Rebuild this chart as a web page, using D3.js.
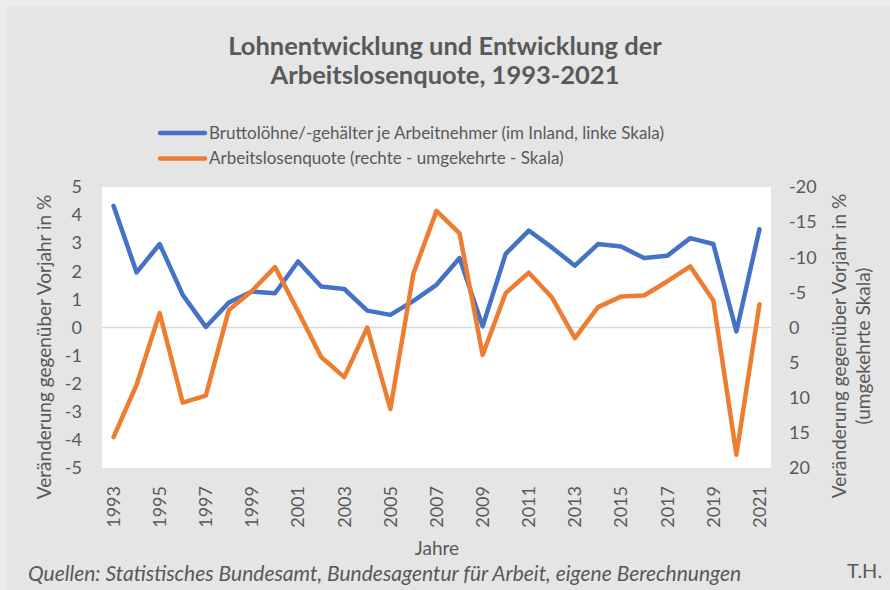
<!DOCTYPE html>
<html>
<head>
<meta charset="utf-8">
<script src="https://cdn.jsdelivr.net/npm/d3@7"></script>
<style>
  body { margin: 0; background: #e5e5e5; }
  text { font-family: Lato, "Open Sans", sans-serif; fill: #595959; }
</style>
</head>
<body>
<div class="display"></div>
<script>
// Lohnentwicklung vs. Arbeitslosenquote, two y-axes (right one inverted)

const WIDTH = 890;
const HEIGHT = 590;

const years = d3.range(1993, 2022);
const yearTicks = d3.range(1993, 2022, 2);

// Bruttolöhne/-gehälter je Arbeitnehmer, Veränderung in %
const wages = [4.33, 1.96, 2.97, 1.16, 0.02, 0.89, 1.28, 1.22, 2.35, 1.46, 1.37, 0.6, 0.45,
  0.95, 1.52, 2.47, 0.04, 2.62, 3.45, 2.85, 2.2, 2.97, 2.88, 2.47, 2.55, 3.18, 2.97, -0.14, 3.5];

// Arbeitslosenquote, Veränderung in %
const unemployment = [15.6, 8.15, -2.05, 10.7, 9.7, -2.5, -5.2, -8.6, -2.3, 4.2, 7.06, 0.0, 11.6,
  -7.7, -16.6, -13.4, 3.9, -4.9, -7.8, -4.3, 1.5, -2.9, -4.4, -4.55, -6.55, -8.7, -3.85, 18.1, -3.3];

const leftTicks = d3.range(-5, 6, 1);
const rightTicks = d3.range(-20, 21, 5);

const legendItems = [
  { label: 'Bruttolöhne/-gehälter je Arbeitnehmer (im Inland, linke Skala)', color: '#4472C4' },
  { label: 'Arbeitslosenquote (rechte - umgekehrte - Skala)', color: '#ED7D31' }
];

const plot = { left: 102, right: 771, top: 187, bottom: 468 };

const svg = d3.select('.display')
  .append('svg')
  .attr('width', WIDTH)
  .attr('height', HEIGHT);

// background with a slightly lighter outer edge
svg.append('rect').attr('width', WIDTH).attr('height', HEIGHT).attr('fill', '#ececec');
svg.append('rect').attr('x', 7).attr('y', 7).attr('width', WIDTH - 7).attr('height', HEIGHT - 7).attr('fill', '#e5e5e5');

svg.append('rect')
  .attr('x', plot.left)
  .attr('y', plot.top)
  .attr('width', plot.right - plot.left)
  .attr('height', plot.bottom - plot.top)
  .attr('fill', '#fff');

const x = d3.scaleBand()
  .domain(years)
  .range([plot.left, plot.right]);

const yLeft = d3.scaleLinear()
  .domain([-5, 5])
  .range([plot.bottom, plot.top]);

// inverted: -20 at the top
const yRight = d3.scaleLinear()
  .domain([20, -20])
  .range([plot.bottom, plot.top]);

const cx = d => x(d) + x.bandwidth() / 2;

// zero line
svg.append('line')
  .attr('x1', plot.left).attr('x2', plot.right)
  .attr('y1', yLeft(0)).attr('y2', yLeft(0))
  .attr('stroke', '#d9d9d9')
  .attr('stroke-width', 1.5);

// axes
const leftAxis = svg.append('g')
  .attr('transform', `translate(${plot.left - 20},0)`)
  .call(d3.axisLeft(yLeft).tickValues(leftTicks).tickSize(0).tickPadding(0));

const rightAxis = svg.append('g')
  .attr('transform', `translate(${plot.right + 18},0)`)
  .call(d3.axisRight(yRight).tickValues(rightTicks).tickSize(0).tickPadding(0));

const xAxis = svg.append('g')
  .attr('transform', `translate(0,${plot.bottom})`)
  .call(d3.axisBottom(x).tickValues(yearTicks).tickSize(0).tickPadding(0));

[leftAxis, rightAxis, xAxis].forEach(a => {
  a.select('.domain').remove();
  a.selectAll('text').style('font-size', '18px').attr('fill', '#595959');
});

leftAxis.selectAll('text').text(d => d < 0 ? '-' + Math.abs(d) : d);
rightAxis.selectAll('text').text(d => d < 0 ? '-' + Math.abs(d) : d);

xAxis.selectAll('text')
  .attr('transform', 'rotate(-90)')
  .attr('x', -18)
  .attr('y', 0)
  .attr('dy', '0.35em')
  .style('text-anchor', 'end');

// lines
const lineLeft = d3.line()
  .x((d, i) => cx(years[i]))
  .y(d => yLeft(d));

const lineRight = d3.line()
  .x((d, i) => cx(years[i]))
  .y(d => yRight(d));

svg.append('path')
  .datum(wages)
  .attr('d', lineLeft)
  .attr('fill', 'none')
  .attr('stroke', legendItems[0].color)
  .attr('stroke-width', 4.5)
  .attr('stroke-linejoin', 'round')
  .attr('stroke-linecap', 'round');

svg.append('path')
  .datum(unemployment)
  .attr('d', lineRight)
  .attr('fill', 'none')
  .attr('stroke', legendItems[1].color)
  .attr('stroke-width', 4.5)
  .attr('stroke-linejoin', 'round')
  .attr('stroke-linecap', 'round');

// title, two separate lines
svg.selectAll('.title')
  .data(['Lohnentwicklung und Entwicklung der', 'Arbeitslosenquote, 1993-2021'])
  .enter()
  .append('text')
  .attr('class', 'title')
  .attr('x', 445)
  .attr('y', (d, i) => 55 + i * 29)
  .attr('text-anchor', 'middle')
  .style('font-size', '25.5px')
  .style('font-weight', 'bold')
  .text(d => d);

// legend
const legend = svg.selectAll('.legend')
  .data(legendItems)
  .enter()
  .append('g')
  .attr('class', 'legend')
  .attr('transform', (d, i) => `translate(160,${133 + i * 25.5})`);

legend.append('line')
  .attr('x1', 0).attr('x2', 45)
  .attr('stroke', d => d.color)
  .attr('stroke-width', 4.5)
  .attr('stroke-linecap', 'round');

legend.append('text')
  .attr('x', 49)
  .attr('dy', '0.35em')
  .style('font-size', '17px')
  .text(d => d.label);

// axis titles
svg.append('text')
  .attr('transform', 'translate(51,347) rotate(-90)')
  .attr('text-anchor', 'middle')
  .style('font-size', '19px')
  .text('Veränderung gegenüber Vorjahr in %');

const rightTitle = svg.append('text')
  .attr('transform', 'translate(846,346) rotate(-90)')
  .attr('text-anchor', 'middle')
  .style('font-size', '19px');
rightTitle.append('tspan').attr('x', 0).attr('y', 0).text('Veränderung gegenüber Vorjahr in %');
rightTitle.append('tspan').attr('x', 0).attr('y', 24).text('(umgekehrte Skala)');

svg.append('text')
  .attr('x', 437)
  .attr('y', 555)
  .attr('text-anchor', 'middle')
  .style('font-size', '19px')
  .text('Jahre');

// footer
svg.append('text')
  .attr('x', 28)
  .attr('y', 581)
  .style('font-size', '21px')
  .style('font-style', 'italic')
  .text('Quellen: Statistisches Bundesamt, Bundesagentur für Arbeit, eigene Berechnungen');

svg.append('text')
  .attr('x', 847)
  .attr('y', 578)
  .style('font-size', '20px')
  .text('T.H.');
</script>
</body>
</html>
